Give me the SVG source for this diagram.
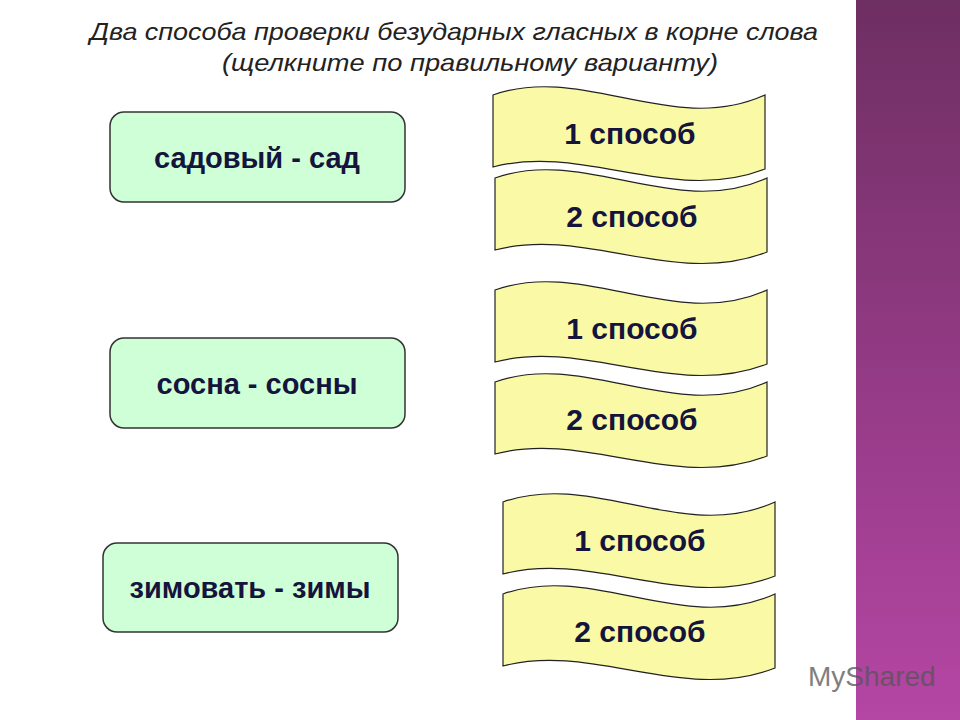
<svg xmlns="http://www.w3.org/2000/svg" xmlns:xlink="http://www.w3.org/1999/xlink" width="960" height="720" viewBox="0 0 960 720">
<defs>
<linearGradient id="band" x1="0" y1="0" x2="0" y2="1">
<stop offset="0" stop-color="#6e2f62"/><stop offset="0.5" stop-color="#923a84"/><stop offset="1" stop-color="#b546a4"/>
</linearGradient>
<path id="flag" d="M0,0 C90,-32 180,42 272,0 L272,74 C180,110 90,48 0,72 Z"/>
</defs>
<style>
.box{fill:#cfffd6;stroke:#333;stroke-width:1.5}
.fl{fill:#fafaa6;stroke:#222;stroke-width:1.2}
.t{font-family:"Liberation Sans",Arial,sans-serif;font-weight:bold;font-size:29px;fill:#14143c;text-anchor:middle}
.f{font-family:"Liberation Sans",Arial,sans-serif;font-weight:bold;font-size:30px;fill:#14143c;text-anchor:middle}
.h{font-family:"Liberation Sans",Arial,sans-serif;font-style:italic;font-size:24px;fill:#222;text-anchor:middle}
</style>
<rect width="960" height="720" fill="#fff"/>
<rect x="856" y="0" width="104" height="720" fill="url(#band)"/>
<g id="title">
<text class="h" x="454" y="40" textLength="728" lengthAdjust="spacingAndGlyphs">Два способа проверки безударных гласных в корне слова</text>
<text class="h" x="470" y="71" textLength="496" lengthAdjust="spacingAndGlyphs">(щелкните по правильному варианту)</text>
</g>
<g id="n1"><rect class="box" x="110" y="112" width="295" height="90" rx="14"/><text class="t" x="257" y="168">садовый - сад</text></g>
<g id="n2"><rect class="box" x="110" y="338" width="295" height="90" rx="14"/><text class="t" x="257" y="394">сосна - сосны</text></g>
<g id="n3"><rect class="box" x="103" y="543" width="295" height="89" rx="14"/><text class="t" x="250" y="598">зимовать - зимы</text></g>
<g id="f1a"><use href="#flag" class="fl" transform="translate(493,95)"/><text class="f" x="630" y="144">1 способ</text></g>
<g id="f1b"><use href="#flag" class="fl" transform="translate(495,178)"/><text class="f" x="632" y="227">2 способ</text></g>
<g id="f2a"><use href="#flag" class="fl" transform="translate(495,290)"/><text class="f" x="632" y="339">1 способ</text></g>
<g id="f2b"><use href="#flag" class="fl" transform="translate(495,382)"/><text class="f" x="632" y="430">2 способ</text></g>
<g id="f3a"><use href="#flag" class="fl" transform="translate(503,502)"/><text class="f" x="640" y="551">1 способ</text></g>
<g id="f3b"><use href="#flag" class="fl" transform="translate(503,594)"/><text class="f" x="640" y="642">2 способ</text></g>
<g id="connectors"/>
<text x="808" y="686" font-family="Liberation Sans,Arial,sans-serif" font-size="28" fill="#555" opacity="0.75">MyShared</text>
</svg>
